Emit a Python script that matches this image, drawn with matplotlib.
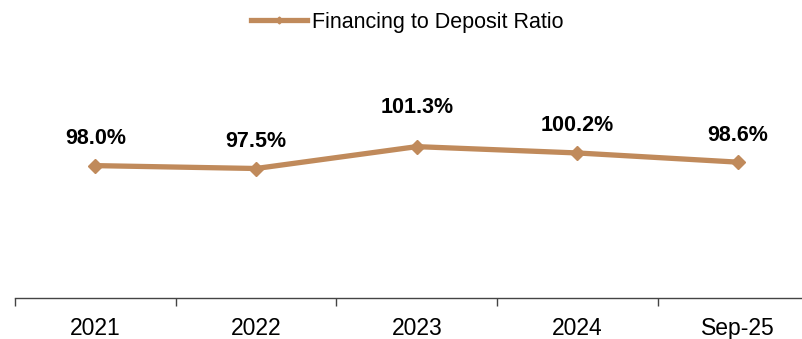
import numpy as np
import matplotlib.pyplot as plt

# Financing to deposit ratio by period (%)
periods = ['2021', '2022', '2023', '2024', 'Sep-25']
fdr = [98.0, 97.5, 101.3, 100.2, 98.6]

line_color = '#C08A5B'
# vertical label offsets (points above each marker)
label_offsets = [19.5, 19.5, 28.5, 19.5, 19]

plt.rcParams['font.family'] = ['Liberation Sans', 'DejaVu Sans']

W, H = 803, 339
fig = plt.figure(figsize=(W / 100, H / 100), dpi=100)
# plot area runs past the right edge, so the last category is cut at the border
ax = fig.add_axes([15 / W, 1 - 298 / H, 5 * 160.7 / W, 259 / H])

x = np.arange(len(periods))
ax.plot(x, fdr, color=line_color, linewidth=3.8, marker='D', markersize=7,
        label='Financing to Deposit Ratio', clip_on=False)

for xi, v, off in zip(x, fdr, label_offsets):
    ax.annotate('{:.1f}%'.format(v), (xi, v), xytext=(0, off), textcoords='offset points',
                ha='center', va='center', fontsize=15.5, fontweight='bold')

ax.set_ylim(75, 120)
ax.set_xlim(-0.5, 4.5)

# category labels centred, tick marks between categories
ax.set_xticks(np.arange(-0.5, len(periods), 1.0))
ax.set_xticklabels([])
ax.set_xticks(x, minor=True)
ax.set_xticklabels(periods, minor=True, fontsize=16.5)
ax.tick_params(axis='x', which='major', length=6, width=1, color='#444444', direction='out')
ax.tick_params(axis='x', which='minor', length=0, pad=14)

ax.set_yticks([])
for side in ['top', 'right', 'left']:
    ax.spines[side].set_visible(False)
ax.spines['bottom'].set_color('#444444')
ax.spines['bottom'].set_linewidth(1)

leg = fig.legend(loc='upper center', bbox_to_anchor=(0.507, 1.022), frameon=False, fontsize=15.5,
                 handlelength=2.6, handletextpad=0.2)
leg.legend_handles[0].set_markersize(3.5)

fig.savefig('out.png', dpi=100)
